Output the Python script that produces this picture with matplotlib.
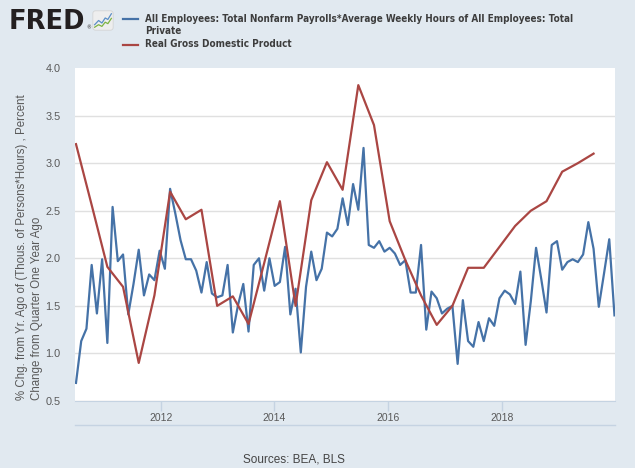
import matplotlib.pyplot as plt
import numpy as np
from matplotlib.patches import FancyBboxPatch

# monthly series, % chg from yr ago (starts mid 2010)
hours_chg = [0.69, 1.13, 1.26, 1.93, 1.42, 1.99, 1.11, 2.54, 1.97, 2.04,
             1.41, 1.73, 2.09, 1.61, 1.83, 1.77, 2.08, 1.89, 2.73, 2.47,
             2.19, 1.99, 1.99, 1.87, 1.64, 1.96, 1.63, 1.59, 1.61, 1.93,
             1.22, 1.51, 1.73, 1.23, 1.93, 2.00, 1.66, 2.00, 1.71, 1.75,
             2.12, 1.41, 1.68, 1.01, 1.70, 2.07, 1.77, 1.89, 2.27, 2.23,
             2.31, 2.63, 2.35, 2.78, 2.51, 3.16, 2.14, 2.11, 2.18, 2.07,
             2.11, 2.05, 1.93, 1.98, 1.64, 1.64, 2.14, 1.25, 1.65, 1.58,
             1.42, 1.47, 1.50, 0.89, 1.56, 1.13, 1.07, 1.33, 1.13, 1.37,
             1.29, 1.58, 1.66, 1.62, 1.52, 1.86, 1.09, 1.55, 2.11, 1.78,
             1.43, 2.14, 2.18, 1.88, 1.96, 1.99, 1.96, 2.04, 2.38, 2.10,
             1.49, 1.84, 2.20, 1.40]

# quarterly real GDP, % change from quarter one year ago
gdp_chg = [3.20, 2.56, 1.91, 1.70, 0.90, 1.61, 2.70, 2.41, 2.51, 1.50,
           1.60, 1.31, 1.95, 2.60, 1.50, 2.61, 3.01, 2.72, 3.82, 3.40,
           2.39, 1.98, 1.61, 1.30, 1.50, 1.90, 1.90, 2.12, 2.34, 2.50,
           2.60, 2.91, 3.00, 3.10]

year_labels = ["2012", "2014", "2016", "2018"]
year_pos = [16.2, 37.9, 59.6, 81.5]   # in months from start
y_ticks = [0.5, 1.0, 1.5, 2.0, 2.5, 3.0, 3.5, 4.0]

blue = "#4572a7"
red = "#aa4643"
bg = "#e1e9f0"
axcol = "#c5d3e2"
txt = "#595959"

fig = plt.figure(figsize=(6.35, 4.68), dpi=100, facecolor=bg)
ax = fig.add_axes([75/635, 1-401/468, 540/635, 333/468])

ax.plot(np.arange(len(hours_chg)), hours_chg, color=blue, lw=1.6)
ax.plot(np.arange(len(gdp_chg))*3, gdp_chg, color=red, lw=1.6)

ax.set_xlim(-0.19, 103.1)
ax.set_ylim(0.5, 4.0)
ax.set_yticks(y_ticks)
ax.set_yticklabels(["%.1f" % v for v in y_ticks], family="Liberation Sans")
ax.set_xticks(year_pos)
ax.set_xticklabels(year_labels, family="Liberation Sans")

ax.grid(axis="y", color="#e0e0e0", lw=1)
ax.set_axisbelow(True)
ax.yaxis.get_gridlines()[-1].set_visible(False)
for s in ["top", "right", "left"]:
    ax.spines[s].set_visible(False)
ax.spines["bottom"].set_color(axcol)
ax.tick_params(axis="y", length=0, pad=10.5, labelsize=7.8, labelcolor=txt)
ax.tick_params(axis="x", length=7, width=1, color=axcol, pad=1.5,
               labelsize=7.5, labelcolor=txt)
ax.plot([0, 1], [-24/333, -24/333], transform=ax.transAxes, clip_on=False,
        color=axcol, lw=1)

fig.text(29.5/635, 1-400/468,
         "% Chg. from Yr. Ago of (Thous. of Persons*Hours) , Percent\n"
         "Change from Quarter One Year Ago",
         rotation=90, ha="center", va="bottom", multialignment="left",
         family="Liberation Sans", size=8.3, color=txt, linespacing=1.25)

# legend
leg = dict(family="DejaVu Sans", fontstretch="condensed", weight="bold",
           size=7.1, color="#3d3d3d", va="baseline")
fig.add_artist(plt.Line2D([123/635, 138/635], [1-19/468, 1-19/468], color=blue, lw=1.6))
fig.add_artist(plt.Line2D([123/635, 138/635], [1-44.5/468, 1-44.5/468], color=red, lw=1.6))
fig.text(145/635, 1-21.5/468,
         "All Employees: Total Nonfarm Payrolls*Average Weekly Hours of All Employees: Total", **leg)
fig.text(145/635, 1-34.5/468, "Private", **leg)
fig.text(145/635, 1-47.3/468, "Real Gross Domestic Product", **leg)

# FRED logo
fig.text(9/635, 1-29/468, "FRED", family="DejaVu Sans", weight="bold",
         size=18.5, color="#231f20", va="baseline")
fig.text(86/635, 1-29/468, "®", size=3.5, color="#231f20", va="baseline")
icon = fig.add_axes([92/635, 1-31/468, 22/635, 21/468])
icon.set_xlim(0, 1)
icon.set_ylim(0, 1)
icon.axis("off")
icon.add_patch(FancyBboxPatch((0.04, 0.04), 0.92, 0.92, boxstyle="round,pad=0,rounding_size=0.12",
                              fc="#eeeeee", ec="#d0d0d0", lw=0.5))
icon.plot([0.12, 0.3, 0.45, 0.6, 0.72, 0.88], [0.3, 0.5, 0.38, 0.62, 0.55, 0.82], color="#5b8fc7", lw=0.9)
icon.plot([0.12, 0.3, 0.45, 0.6, 0.72, 0.88], [0.18, 0.3, 0.22, 0.42, 0.35, 0.6], color="#7cb342", lw=0.9)

fig.text(294/635, 1-460/468, "Sources: BEA, BLS", ha="center", va="center",
         family="Liberation Sans", size=8.5, color="#444444")

fig.savefig("out.png", dpi=100, facecolor=bg)
